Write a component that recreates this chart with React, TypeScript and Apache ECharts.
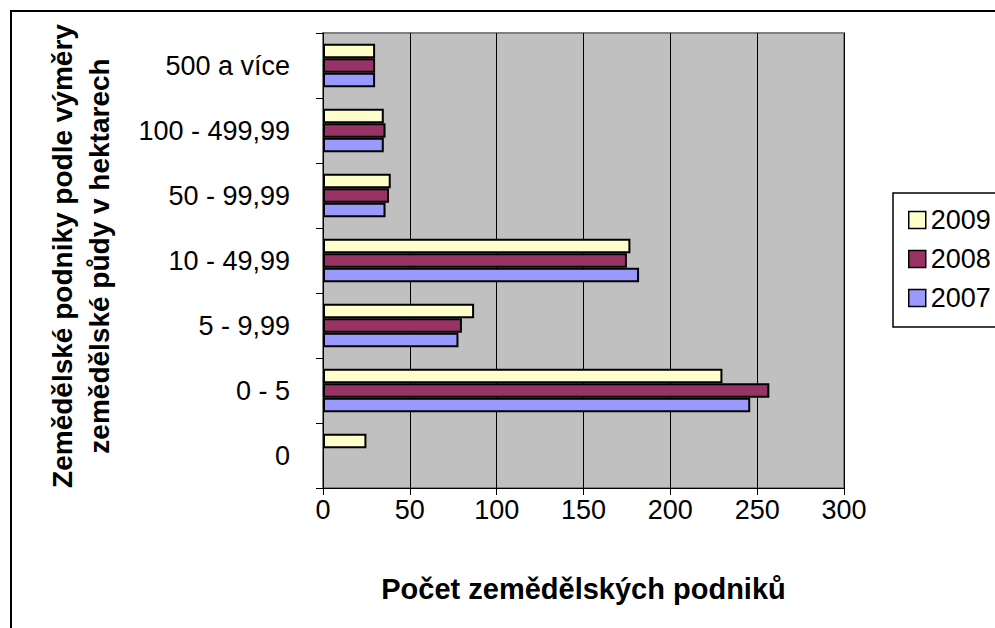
import React, { useEffect, useRef } from "react";
import * as echarts from "echarts";

const categories = ["0", "0 - 5", "5 - 9,99", "10 - 49,99", "50 - 99,99", "100 - 499,99", "500 a více"];
const seriesNames = ["2009", "2008", "2007"];
const values2009 = [25, 230, 87, 177, 39, 35, 30];
const values2008 = [0, 257, 80, 175, 38, 36, 30];
const values2007 = [0, 246, 78, 182, 36, 35, 30];
const colors = ["#FFFFCC", "#993366", "#9999FF"];
const xTicks = { min: 0, max: 300, interval: 50 };
const xTitle = "Počet zemědělských podniků";
const yTitle = "Zemědělské podniky podle výměry\nzemědělské půdy v hektarech";

const FONT = "'Liberation Sans', Arial, sans-serif";

export default function App() {
  const ref = useRef<HTMLDivElement>(null);
  useEffect(() => {
    if (!ref.current) return;
    const chart = echarts.init(ref.current, undefined, { renderer: "svg" });
    const data = [values2009, values2008, values2007];
    chart.setOption({
      animation: false,
      backgroundColor: "#ffffff",
      textStyle: { fontFamily: FONT },
      grid: {
        left: 323,
        top: 33,
        right: 151,
        bottom: 140,
        show: true,
        backgroundColor: "#C0C0C0",
        borderColor: "#808080",
        borderWidth: 2,
        containLabel: false,
      },
      xAxis: {
        type: "value",
        min: xTicks.min,
        max: xTicks.max,
        interval: xTicks.interval,
        name: xTitle,
        nameLocation: "middle",
        nameGap: 86,
        nameTextStyle: { fontSize: 29, fontWeight: "bold", color: "#000", fontFamily: FONT },
        axisLine: { show: true, lineStyle: { color: "#000", width: 1 } },
        axisTick: { show: true, length: 7, lineStyle: { color: "#000" } },
        axisLabel: { fontSize: 27, color: "#000", margin: 8, fontFamily: FONT },
        splitLine: { show: true, lineStyle: { color: "#000", width: 1 } },
      },
      yAxis: {
        type: "category",
        data: categories,
        axisLine: { show: true, lineStyle: { color: "#000", width: 1 } },
        axisTick: { show: true, length: 7, lineStyle: { color: "#000" } },
        axisLabel: { fontSize: 27, color: "#000", margin: 33, fontFamily: FONT },
        splitLine: { show: false },
      },
      legend: {
        orient: "vertical",
        left: 903,
        top: 200,
        data: ["2009", "2008", "2007"],
        itemWidth: 17,
        itemHeight: 17,
        itemGap: 9,
        icon: "rect",
        textStyle: { fontSize: 27, color: "#000", fontFamily: FONT, lineHeight: 30 },
        itemStyle: { borderColor: "#000", borderWidth: 1.5 },
      },
      graphic: [
        {
          type: "rect",
          shape: { x: 11, y: 11, width: 1000, height: 700 },
          style: { fill: "none", stroke: "#000", lineWidth: 2 },
          silent: true,
        },
        {
          type: "rect",
          shape: { x: 893, y: 193, width: 110, height: 134 },
          style: { fill: "#fff", stroke: "#000", lineWidth: 1.5 },
          z: -1,
          silent: true,
        },
        {
          type: "text",
          x: 81,
          y: 256,
          rotation: Math.PI / 2,
          style: {
            text: yTitle,
            align: "center",
            verticalAlign: "middle",
            fontSize: 28,
            fontWeight: "bold",
            fontFamily: FONT,
            fill: "#000",
            lineHeight: 37,
          },
        },
      ],
      series: seriesNames.map((name, i) => ({
        name,
        type: "bar",
        data: data[i].map((v) => (v === 0 ? { value: v, itemStyle: { borderWidth: 0 } } : v)),
        barGap: "0%",
        barCategoryGap: "33%",
        itemStyle: { color: colors[i], borderColor: "#000", borderWidth: 2 },
      })),
    });
    return () => chart.dispose();
  }, []);
  return <div ref={ref} style={{ position: "absolute", left: 0, top: 0, width: 995, height: 628 }} />;
}
